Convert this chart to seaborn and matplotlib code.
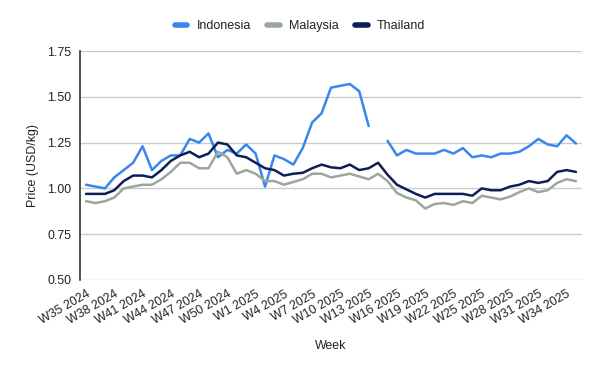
import numpy as np
import pandas as pd
import matplotlib
matplotlib.use("Agg")
import matplotlib.pyplot as plt
from matplotlib.lines import Line2D
import seaborn as sns

weeks = [f"W{w} 2024" for w in range(35, 53)] + [f"W{w} 2025" for w in range(1, 36)]

indonesia = [1.02, 1.01, 1.00, 1.06, 1.10, 1.14, 1.23, 1.10, 1.15, 1.18,
             1.18, 1.27, 1.25, 1.30, 1.17, 1.21, 1.19, 1.24, 1.19, 1.01,
             1.18, 1.16, 1.13, 1.22, 1.36, 1.41, 1.55, 1.56, 1.57, 1.53,
             1.34, np.nan, 1.26, 1.18, 1.21, 1.19, 1.19, 1.19, 1.21, 1.19,
             1.22, 1.17, 1.18, 1.17, 1.19, 1.19, 1.20, 1.23, 1.27, 1.24,
             1.23, 1.29, 1.245]
malaysia = [0.93, 0.92, 0.93, 0.95, 1.00, 1.01, 1.02, 1.02, 1.05, 1.09,
            1.14, 1.14, 1.11, 1.11, 1.20, 1.17, 1.08, 1.10, 1.08, 1.04,
            1.04, 1.02, 1.035, 1.05, 1.08, 1.08, 1.06, 1.07, 1.08, 1.065,
            1.05, 1.08, 1.04, 0.975, 0.95, 0.935, 0.89, 0.915, 0.92, 0.91,
            0.93, 0.92, 0.96, 0.95, 0.94, 0.955, 0.98, 1.00, 0.98, 0.99,
            1.03, 1.05, 1.04]
thailand = [0.97, 0.97, 0.97, 0.99, 1.04, 1.07, 1.07, 1.06, 1.10, 1.15,
            1.18, 1.20, 1.17, 1.19, 1.25, 1.24, 1.18, 1.17, 1.14, 1.11,
            1.10, 1.07, 1.08, 1.085, 1.11, 1.13, 1.115, 1.11, 1.13, 1.10,
            1.11, 1.14, 1.075, 1.02, 0.995, 0.97, 0.95, 0.97, 0.97, 0.97,
            0.97, 0.96, 1.00, 0.99, 0.99, 1.01, 1.02, 1.04, 1.03, 1.04,
            1.09, 1.10, 1.09]

countries = ["Indonesia", "Malaysia", "Thailand"]
colors = {"Indonesia": "#3a86f0", "Malaysia": "#9aa89c", "Thailand": "#0c1f57"}
series = {"Indonesia": indonesia, "Malaysia": malaysia, "Thailand": thailand}

rows = []
for c in countries:
    seg = 0
    for i, (w, v) in enumerate(zip(weeks, series[c])):
        if np.isnan(v):
            seg += 1
            continue
        rows.append({"idx": i, "week": w, "country": c, "price": v, "seg": f"{c}-{seg}"})
df = pd.DataFrame(rows)

sns.set_theme(style="white")
plt.rcParams["font.family"] = ["Liberation Sans", "DejaVu Sans"]
plt.rcParams["text.color"] = "#222222"

fig = plt.figure(figsize=(6, 3.71), dpi=100)
ax = fig.add_axes([80 / 600, 1 - 280 / 371, 502 / 600, 229 / 371])

for c in countries:
    sub = df[df["country"] == c]
    sns.lineplot(data=sub, x="idx", y="price", units="seg", estimator=None,
                 color=colors[c], linewidth=1.8, ax=ax, legend=False, sort=False)

ax.set_xlim(-0.64, 52.64)
ax.set_ylim(0.5, 1.75)
yt = [0.50, 0.75, 1.00, 1.25, 1.50, 1.75]
ax.set_yticks(yt)
ax.set_yticklabels([f"{v:.2f}" for v in yt], fontsize=8.9, color="#222222")
xt = list(range(0, len(weeks), 3))
ax.set_xticks(xt)
ax.set_xticklabels([weeks[i] for i in xt], rotation=30, ha="right",
                   rotation_mode="anchor", fontsize=8.9, color="#222222")
ax.tick_params(axis="both", length=0, pad=6)
ax.tick_params(axis="x", pad=6)
ax.grid(axis="y", color="#cccccc", linewidth=1)
ax.grid(axis="x", visible=False)
ax.set_axisbelow(True)
for s in ["top", "right", "bottom"]:
    ax.spines[s].set_visible(False)
ax.spines["left"].set_color("#333333")
ax.spines["left"].set_linewidth(1.2)

ax.set_xlabel("Week", fontsize=8.9, color="#222222", labelpad=9)
ax.set_ylabel("Price (USD/kg)", fontsize=8.9, color="#222222", labelpad=6)

handles = [Line2D([0], [0], color=colors[c], linewidth=4) for c in countries]
fig.legend(handles, countries, loc="center", bbox_to_anchor=(0.5, 1 - 26 / 371),
           ncol=3, frameon=False, fontsize=9.0, handlelength=1.0,
           handletextpad=0.75, columnspacing=1.3)

fig.savefig("out.png", dpi=100)
